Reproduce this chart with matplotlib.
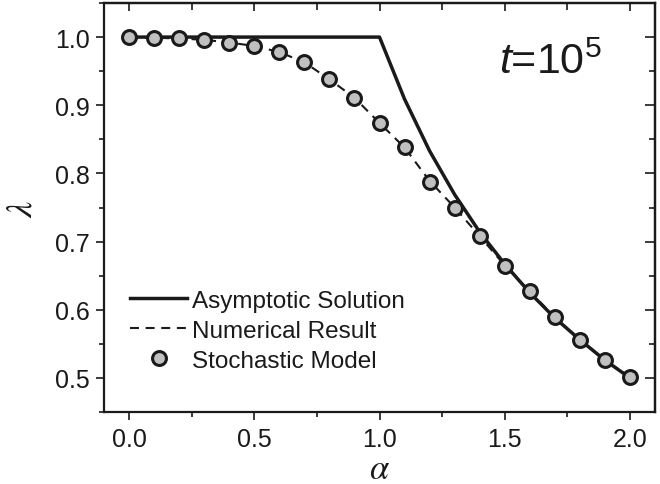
import numpy as np
import matplotlib
matplotlib.use("Agg")
import matplotlib.pyplot as plt
from matplotlib.ticker import MultipleLocator, FormatStrFormatter

plt.rcParams['font.family'] = ['Liberation Sans', 'DejaVu Sans']
plt.rcParams['mathtext.fontset'] = 'custom'
plt.rcParams['mathtext.rm'] = 'Liberation Sans'
plt.rcParams['mathtext.it'] = 'Liberation Sans:italic'

# asymptotic solution
alpha_asym = [0.0, 1.0, 1.1, 1.2, 1.3, 1.4, 1.5, 1.6, 1.7, 1.8, 1.9, 2.0]
lam_asym = [1.0, 1.0, 0.909, 0.833, 0.769, 0.714, 0.667, 0.625, 0.588, 0.556, 0.526, 0.5]

# numerical result and stochastic model
alpha_pts = [0.0, 0.1, 0.2, 0.3, 0.4, 0.5, 0.6, 0.7, 0.8, 0.9, 1.0,
             1.1, 1.2, 1.3, 1.4, 1.5, 1.6, 1.7, 1.8, 1.9, 2.0]
lam_num = [1.0, 0.999, 0.998, 0.996, 0.992, 0.987, 0.978, 0.963, 0.938, 0.911, 0.874,
           0.838, 0.789, 0.750, 0.708, 0.665, 0.627, 0.589, 0.556, 0.526, 0.502]
lam_sto = [1.0, 0.999, 0.998, 0.996, 0.992, 0.987, 0.978, 0.964, 0.938, 0.911, 0.874,
           0.839, 0.788, 0.750, 0.708, 0.664, 0.627, 0.589, 0.556, 0.526, 0.502]

ink = '#1a1a1a'

fig = plt.figure(figsize=(6.6, 4.85), dpi=100)
ax = fig.add_axes([104/660, 1 - 413/485, 551/660, 409/485])

ax.plot(alpha_asym, lam_asym, color=ink, lw=2.5, label='Asymptotic Solution', zorder=2)
ax.plot(alpha_pts, lam_num, color=ink, lw=1.5, ls=(0, (4.3, 3.2)), label='Numerical Result', zorder=3)
ax.plot(alpha_pts, lam_sto, ls='none', marker='o', ms=10, mfc='#c0c0c0', mec=ink,
        mew=2.2, label='Stochastic Model', zorder=4)

ax.set_xlim(-0.1, 2.1)
ax.set_ylim(0.45, 1.05)
ax.xaxis.set_major_locator(MultipleLocator(0.5))
ax.xaxis.set_minor_locator(MultipleLocator(0.25))
ax.yaxis.set_major_locator(MultipleLocator(0.1))
ax.yaxis.set_minor_locator(MultipleLocator(0.05))
ax.xaxis.set_major_formatter(FormatStrFormatter('%.1f'))
ax.yaxis.set_major_formatter(FormatStrFormatter('%.1f'))
ax.tick_params(which='both', direction='out', width=1.2, color=ink, labelcolor=ink)
ax.tick_params(which='major', length=6, labelsize=18)
ax.tick_params(axis='y', which='major', pad=4)
ax.tick_params(axis='x', which='major', pad=5)
ax.tick_params(which='minor', length=3.5)
for s in ax.spines.values():
    s.set_linewidth(1.6)
    s.set_color(ink)

# top and right axes: inward ticks, no labels
top = ax.secondary_xaxis('top')
top.xaxis.set_major_locator(MultipleLocator(0.5))
top.xaxis.set_minor_locator(MultipleLocator(0.25))
top.tick_params(which='both', direction='in', width=1.2, color=ink, labeltop=False)
top.tick_params(which='major', length=6)
top.tick_params(which='minor', length=5)
top.spines['top'].set_linewidth(1.6)
right = ax.secondary_yaxis('right')
right.yaxis.set_major_locator(MultipleLocator(0.1))
right.yaxis.set_minor_locator(MultipleLocator(0.05))
right.tick_params(which='both', direction='in', width=1.2, color=ink, labelright=False)
right.tick_params(which='major', length=7)
right.tick_params(which='minor', length=4)
right.spines['right'].set_linewidth(1.6)

ax.set_xlabel(r'$\alpha$', fontsize=25, labelpad=0.5, math_fontfamily='stix', color=ink)
ax.set_ylabel(r'$\lambda$', fontsize=26, labelpad=11, math_fontfamily='stix', color=ink)

ax.text(0.717, 0.829, r'$t$=10$^5$', transform=ax.transAxes, fontsize=31,
        ha='left', va='baseline', color=ink)

leg = ax.legend(loc='lower left', bbox_to_anchor=(0.03, 0.075), frameon=False, fontsize=17.5,
                handlelength=2.35, handletextpad=0.2, labelspacing=0.33, borderaxespad=0)
for t in leg.get_texts():
    t.set_color(ink)

fig.savefig('out.png', dpi=100)
